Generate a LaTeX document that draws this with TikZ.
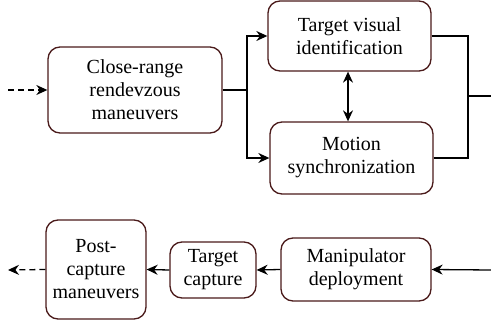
\documentclass[tikz,border=0pt]{standalone}
\usepackage{fontspec}
\setmainfont{Liberation Serif}
\newfontfamily\boxfont{Liberation Serif}
\usetikzlibrary{arrows.meta}
\definecolor{boxline}{HTML}{4A1A1A}
\tikzset{
  stepbox/.style={draw=boxline, line width=1.3pt, rounded corners=12pt, align=center,
    font=\boxfont\fontsize{20}{23}\selectfont, inner sep=0pt, fill=white},
  conn/.style={draw=black, line width=1.3pt, -{Stealth[length=11pt,width=10pt]}},
  plain/.style={draw=black, line width=1.3pt},
  dashline/.style={dash pattern=on 6pt off 4pt},
}
\begin{document}
\begin{tikzpicture}[x=1pt,y=-1pt]
\useasboundingbox (0,0) rectangle (491,324);
\node[stepbox, minimum width=174pt, minimum height=86pt] (cr) at (135,90) {Close-range\\rendevzous\\maneuvers};
\node[stepbox, minimum width=163pt, minimum height=70pt] (tv) at (349.5,36) {Target visual\\identification};
\node[stepbox, minimum width=163pt, minimum height=72pt] (ms) at (351.5,158) {Motion\\synchronization};
\node[stepbox, minimum width=100pt, minimum height=99pt] (pc) at (96,269.5) {Post-\\capture\\maneuvers};
\node[stepbox, minimum width=86pt, minimum height=56pt] (tc) at (213,270) {Target\\capture};
\node[stepbox, minimum width=150pt, minimum height=63pt] (md) at (356,269.5) {Manipulator\\deployment};
\coordinate (start) at (8,90);
\coordinate (split) at (247,90);
\coordinate (merge) at (468,96);
\coordinate (out) at (491,96);
\coordinate (in) at (491,270);
\coordinate (finish) at (8,270);
\draw[conn, dashline] (start) -- (cr.west);
\draw[plain] (cr.east) -- (split);
\draw[conn] (split) |- (tv.west);
\draw[conn] (split) |- (ms.west);
\draw[conn, {Stealth[length=11pt,width=10pt]}-{Stealth[length=11pt,width=10pt]}] (tv.south -| 348,0) -- (ms.north -| 348,0);
\draw[plain] (tv.east) -| (merge);
\draw[plain] (ms.east) -| (merge);
\draw[plain] (merge) -- (out);
\draw[conn] (in) -- (md.east);
\draw[conn] (md.west) -- (tc.east);
\draw[conn] (tc.west) -- (pc.east);
\draw[conn, dashline] (pc.west) -- (finish);
\end{tikzpicture}
\end{document}
